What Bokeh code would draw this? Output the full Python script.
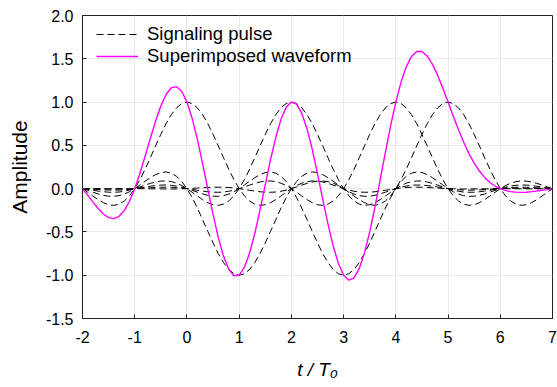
import numpy as np
from bokeh.plotting import figure
from bokeh.models import Range1d, FixedTicker, NumeralTickFormatter, Legend, LegendItem
from bokeh.embed import file_html
from bokeh.resources import INLINE

# Pulse shape: value at offsets 0.0, 0.1, ..., 7.0 from the pulse centre (symmetric)
pulse_shape = [
    1.000, 0.983, 0.933, 0.854, 0.750, 0.627, 0.494, 0.358, 0.225, 0.104,
    0.000, -0.083, -0.143, -0.179, -0.193, -0.186, -0.162, -0.127, -0.086, -0.042,
    0.000, 0.036, 0.063, 0.081, 0.089, 0.087, 0.077, 0.061, 0.041, 0.020,
    0.000, -0.017, -0.030, -0.039, -0.042, -0.041, -0.036, -0.028, -0.019, -0.009,
    0.000, 0.008, 0.013, 0.016, 0.017, 0.016, 0.014, 0.010, 0.007, 0.003,
    0.000, -0.002, -0.004, -0.004, -0.004, -0.003, -0.002, -0.002, -0.001, 0.000,
    0.000, 0.000, -0.001, -0.001, -0.002, -0.002, -0.002, -0.002, -0.002, -0.001,
    0.000,
]
# Signalling instants (in units of T0) and symbol amplitudes
symbol_times = [0, 1, 2, 3, 4, 5]
symbol_amps = [1, -1, 1, -1, 1, 1]
# Sample grid in tenths of T0, and tick values
grid_tenths = list(range(-20, 71))
x_ticks = [-2, -1, 0, 1, 2, 3, 4, 5, 6, 7]
y_ticks = [-1.5, -1.0, -0.5, 0.0, 0.5, 1.0, 1.5, 2.0]

half = np.array(pulse_shape)
n_half = len(half) - 1
full = np.concatenate([half[:0:-1], half])  # offsets -7.0 .. 7.0
g = np.array(grid_tenths)
t = g / 10.0

pulses = []
for tc, a in zip(symbol_times, symbol_amps):
    idx = g - 10 * tc + n_half
    pulses.append(a * full[idx])
waveform = np.sum(pulses, axis=0)

FONT = "Liberation Sans"

p = figure(width=557, height=387, output_backend="svg", toolbar_location=None,
           x_range=Range1d(-2, 7), y_range=Range1d(-1.5, 2.0),
           min_border_left=82, min_border_right=5, min_border_top=15, min_border_bottom=69)
p.background_fill_color = "white"
p.border_fill_color = "white"
p.outline_line_color = "#222222"
p.outline_line_width = 1

p.xaxis.ticker = FixedTicker(ticks=x_ticks)
p.yaxis.ticker = FixedTicker(ticks=y_ticks)
p.xaxis.formatter = NumeralTickFormatter(format="0")
p.yaxis.formatter = NumeralTickFormatter(format="0.0")
for ax in (p.xaxis[0], p.yaxis[0]):
    ax.axis_line_color = "#222222"
    ax.major_tick_line_color = "#222222"
    ax.major_tick_in = 4
    ax.major_tick_out = 0
    ax.minor_tick_line_color = None
    ax.major_label_text_font = FONT
    ax.major_label_text_font_size = "16px"
    ax.major_label_text_color = "black"
    ax.axis_label_text_font = FONT
    ax.axis_label_text_color = "black"
p.xaxis.major_label_standoff = 12
p.yaxis.major_label_standoff = 9
p.xaxis.axis_label = "t / T\u2080"
p.xaxis.axis_label_text_font_style = "italic"
p.xaxis.axis_label_text_font_size = "19px"
p.xaxis.axis_label_standoff = 13
p.yaxis.axis_label = "Amplitude"
p.yaxis.axis_label_text_font_style = "normal"
p.yaxis.axis_label_text_font_size = "21px"
p.yaxis.axis_label_standoff = 12

p.xgrid.grid_line_color = "#ebebeb"
p.ygrid.grid_line_color = "#ebebeb"
p.xgrid.grid_line_width = 1
p.ygrid.grid_line_width = 1

renderers = []
for y in pulses:
    r = p.line(t, y, line_color="black", line_width=1, line_dash="7 4")
    renderers.append(r)
rm = p.line(t, waveform, line_color="#ff00ff", line_width=1.4)

legend = Legend(items=[LegendItem(label="Signaling pulse", renderers=[renderers[0]]),
                       LegendItem(label="Superimposed waveform", renderers=[rm])],
                location=(9, 246), background_fill_alpha=0, border_line_alpha=0,
                label_text_font=FONT, label_text_font_size="18.5px", label_text_color="black",
                glyph_width=42, glyph_height=20, label_height=20,
                label_standoff=9, spacing=-4, padding=5, margin=0)
p.add_layout(legend)

open("out.html", "w").write(file_html(p, INLINE))
